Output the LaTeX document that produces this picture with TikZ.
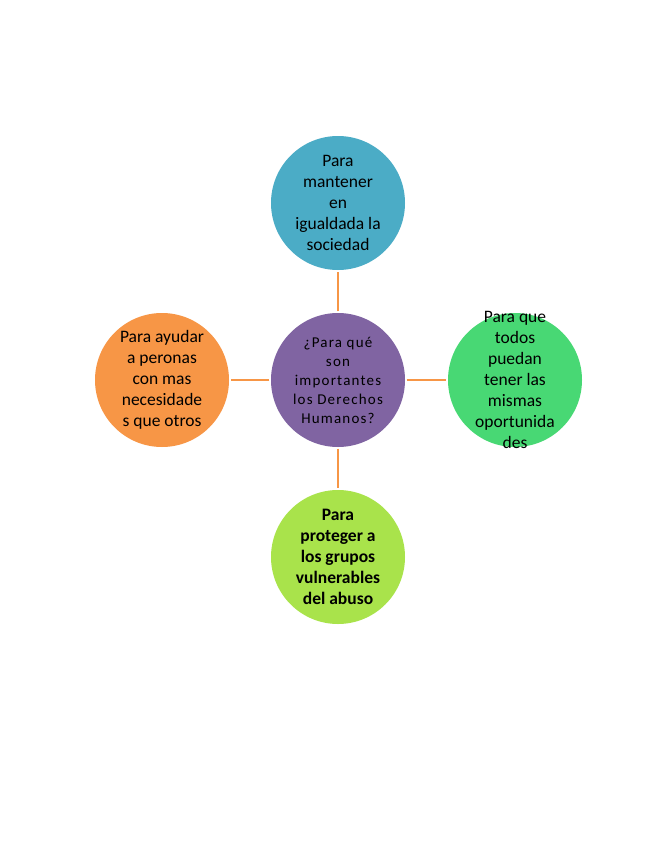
\documentclass[tikz,border=0pt]{standalone}
\usepackage{fontspec}
\setmainfont{Carlito}
\begin{document}
\begin{tikzpicture}[x=1pt,y=-1pt,
  bubble/.style={circle,minimum size=134pt,inner sep=0pt},
  label text/.style={align=center,text=black,inner sep=0pt,
    font=\fontsize{17.5}{21}\selectfont},
  conn/.style={draw=orangeline,line width=1.8pt,shorten >=1.5pt,shorten <=1.5pt}]
\definecolor{aquac}{HTML}{4BACC6}
\definecolor{purplec}{HTML}{8064A2}
\definecolor{orangec}{HTML}{F79646}
\definecolor{greenc}{HTML}{48D874}
\definecolor{limec}{HTML}{A9E34B}
\definecolor{orangeline}{HTML}{F79646}
\useasboundingbox[fill=white] (0,0) rectangle (655,848);
\node[bubble,fill=purplec] (c) at (338,380) {};
\node[bubble,fill=aquac] (t) at (338,203) {};
\node[bubble,fill=orangec] (l) at (162,380) {};
\node[bubble,fill=greenc] (r) at (515,380) {};
\node[bubble,fill=limec] (b) at (338,557) {};
\node[label text,font=\fontsize{15}{19}\selectfont\addfontfeature{LetterSpace=8}] (ct) at (c.center)
  {¿Para qué\\son\\importantes\\los Derechos\\Humanos?};
\node[label text] (tt) at (t.center)
  {Para\\mantener\\en\\igualdada la\\sociedad};
\node[label text] (lt) at (l.center)
  {Para ayudar\\a peronas\\con mas\\necesidade\\s que otros};
\node[label text] (rt) at (r.center)
  {Para que\\todos\\puedan\\tener las\\mismas\\oportunida\\des};
\node[label text,font=\fontsize{17.5}{21}\selectfont\bfseries] (bt) at (b.center)
  {Para\\proteger a\\los grupos\\vulnerables\\del abuso};
\draw[conn] (c) -- (t);
\draw[conn] (c) -- (l);
\draw[conn] (c) -- (r);
\draw[conn] (c) -- (b);
\end{tikzpicture}
\end{document}
